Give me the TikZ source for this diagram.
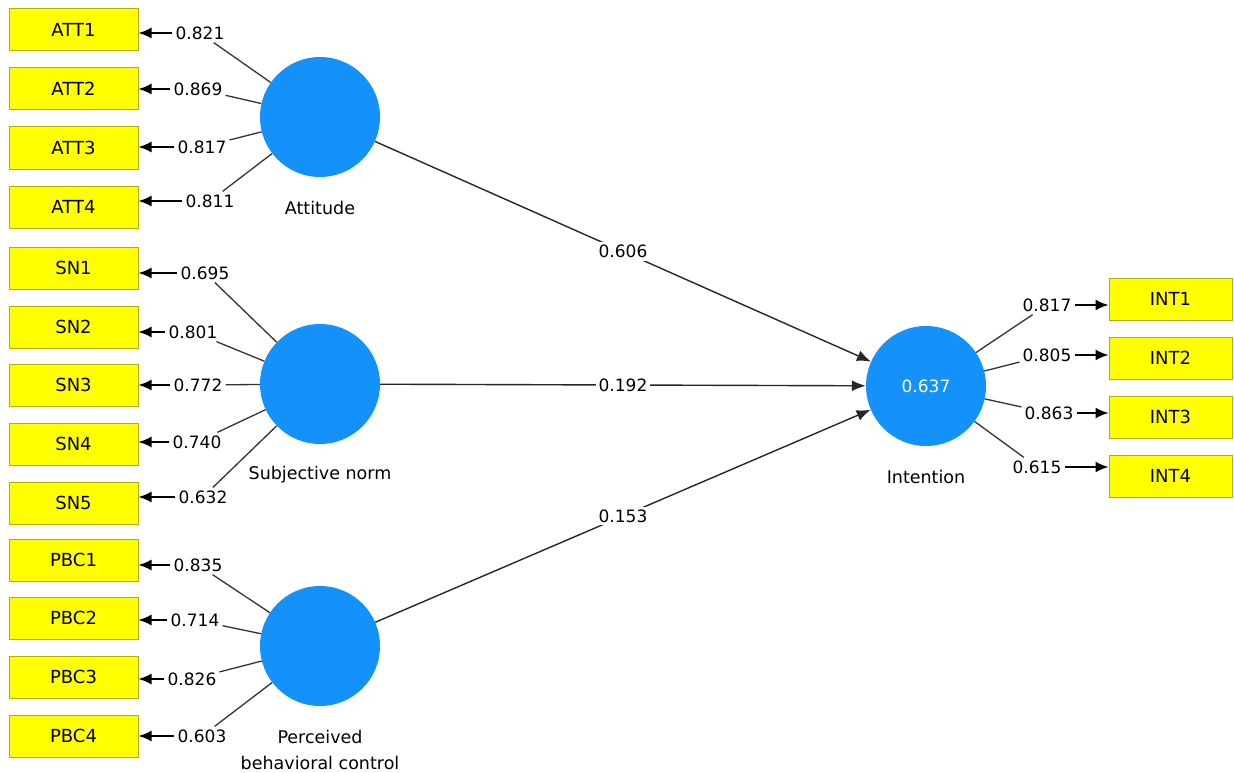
\documentclass[tikz,border=0pt]{standalone}
\usepackage{fontspec}
\setmainfont{DejaVu Sans}
\usetikzlibrary{arrows.meta}
\definecolor{lvblue}{HTML}{1592FA}
\definecolor{boxyellow}{HTML}{FFFF00}
\definecolor{boxborder}{HTML}{B0B000}
\definecolor{linegray}{HTML}{333333}
\tikzset{
  ind/.style={rectangle, fill=boxyellow, draw=boxborder, line width=1pt, minimum width=129pt, minimum height=42pt, inner sep=0pt, font=\fontsize{18}{20}\selectfont},
  indr/.style={ind, minimum width=123pt},
  lv/.style={circle, fill=lvblue, minimum size=120pt, inner sep=0pt, font=\fontsize{17}{20}\selectfont, text=white},
  lvname/.style={font=\fontsize{17.5}{26}\selectfont, align=center},
  lab/.style={fill=white, inner sep=3pt, font=\fontsize{17}{19}\selectfont},
  ld/.style={draw=linegray, line width=1.3pt},
  arr/.style={draw=black, line width=1.7pt, -{Latex[length=13pt,width=11pt]}},
  pth/.style={draw=black!85, line width=1.4pt, -{Latex[length=14pt,width=11pt]}}
}
\begin{document}
\begin{tikzpicture}[x=1pt,y=-1pt]
\useasboundingbox (0,0) rectangle (1234,773);
% indicator boxes
\node[ind] (a1) at (73.5,30) {ATT1};
\node[ind] (a2) at (73.5,89) {ATT2};
\node[ind] (a3) at (73.5,148) {ATT3};
\node[ind] (a4) at (73.5,207) {ATT4};
\node[ind] (s1) at (73.5,268) {SN1};
\node[ind] (s2) at (73.5,327) {SN2};
\node[ind] (s3) at (73.5,385) {SN3};
\node[ind] (s4) at (73.5,444) {SN4};
\node[ind] (s5) at (73.5,503) {SN5};
\node[ind] (p1) at (73.5,560) {PBC1};
\node[ind] (p2) at (73.5,618) {PBC2};
\node[ind] (p3) at (73.5,677) {PBC3};
\node[ind] (p4) at (73.5,736) {PBC4};
\node[indr] (i1) at (1170.5,299) {INT1};
\node[indr] (i2) at (1170.5,358) {INT2};
\node[indr] (i3) at (1170.5,417) {INT3};
\node[indr] (i4) at (1170.5,476) {INT4};
% latent variables
\node[lv] (att) at (320,117) {};
\node[lv] (sn) at (320,384) {};
\node[lv] (pbc) at (320,646) {};
\node[lv] (int) at (926,386) {0.637};
\node[lvname] (attn) at (320,208) {Attitude};
\node[lvname] (snn) at (320,475) {Subjective norm};
\node[lvname] (pbcn) at (320,750) {Perceived\\behavioral control};
\node[lvname] (intn) at (926,477) {Intention};
% loading labels
\node[lab] (la1) at (200,33) {0.821};
\node[lab] (la2) at (198,89) {0.869};
\node[lab] (la3) at (202,147) {0.817};
\node[lab] (la4) at (210,201) {0.811};
\node[lab] (ls1) at (205,273) {0.695};
\node[lab] (ls2) at (193,332) {0.801};
\node[lab] (ls3) at (198,385) {0.772};
\node[lab] (ls4) at (197,442) {0.740};
\node[lab] (ls5) at (203,497) {0.632};
\node[lab] (lp1) at (198,565) {0.835};
\node[lab] (lp2) at (195,620) {0.714};
\node[lab] (lp3) at (192,679) {0.826};
\node[lab] (lp4) at (202,736) {0.603};
\node[lab] (li1) at (1047,305) {0.817};
\node[lab] (li2) at (1047,355) {0.805};
\node[lab] (li3) at (1049,413) {0.863};
\node[lab] (li4) at (1037,467) {0.615};
% outer model lines
\foreach \c/\l/\b in {att/la1/a1,att/la2/a2,att/la3/a3,att/la4/a4,sn/ls1/s1,sn/ls2/s2,sn/ls3/s3,sn/ls4/s4,sn/ls5/s5,pbc/lp1/p1,pbc/lp2/p2,pbc/lp3/p3,pbc/lp4/p4}{
  \draw[ld] (\c) -- (\l);
  \draw[arr] (\l.west) -- (\l.west -| \b.east);
}
\foreach \l/\b in {li1/i1,li2/i2,li3/i3,li4/i4}{
  \draw[ld] (int) -- (\l);
  \draw[arr] (\l.east) -- (\l.east -| \b.west);
}
% inner model
\draw[pth] (att) -- node[lab] {0.606} (int);
\draw[pth] (sn) -- node[lab] {0.192} (int);
\draw[pth] (pbc) -- node[lab] {0.153} (int);
\end{tikzpicture}
\end{document}
